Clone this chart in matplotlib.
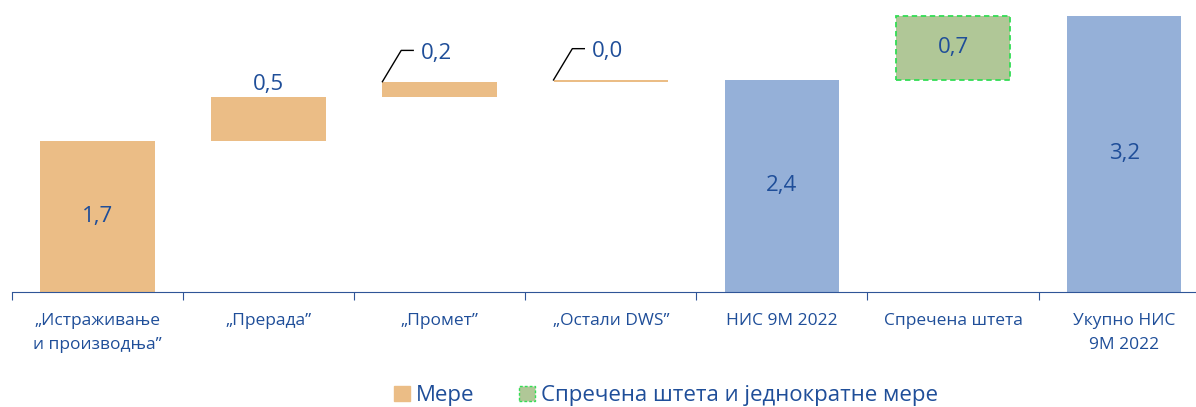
import matplotlib.pyplot as plt
from matplotlib.patches import Patch

plt.rcParams['font.family'] = ['Open Sans', 'DejaVu Sans']

categories = ['„Истраживање\nи производња”', '„Прерада”', '„Промет”', '„Остали DWS”',
              'НИС 9M 2022', 'Спречена штета', 'Укупно НИС\n9M 2022']
steps = [1.74, 0.50, 0.18, 0.02]
subtotal = 2.44
prevented = 0.74
total = 3.18

orange = '#EBBD86'
blue = '#95B0D8'
green = '#B0C797'
text_blue = '#1F4E99'

fig = plt.figure(figsize=(11.96, 4.07), dpi=100)
ax = fig.add_axes([0.010, 0.2826, 0.99, 0.7174])

def fmt(v):
    return f'{v:.1f}'.replace('.', ',')

# мере (водопад)
base = 0
for i, v in enumerate(steps):
    ax.bar(i, v, bottom=base, width=0.67, color=orange)
    if i == 0:
        ax.text(i, base + v / 2, fmt(v), ha='center', va='center', fontsize=16, color=text_blue)
    elif i == 1:
        ax.text(i, base + v + 0.03, fmt(v), ha='center', va='bottom', fontsize=16, color=text_blue)
    else:
        # лидер линија
        x0 = i - 0.335
        y0 = base + v
        ax.plot([x0, x0 + 0.11, x0 + 0.18], [y0, y0 + 0.36, y0 + 0.36], color='black', lw=1)
        ax.text(x0 + 0.225, y0 + 0.33, fmt(v), ha='left', va='center', fontsize=16, color=text_blue)
    base += v

ax.bar(4, subtotal, width=0.67, color=blue)
ax.text(4, subtotal / 2, fmt(subtotal), ha='center', va='center', fontsize=16, color=text_blue)

ax.bar(5, prevented, bottom=subtotal, width=0.67, color=green, edgecolor='#33DD55',
       linestyle=(0, (3, 2)), linewidth=1.3)
ax.text(5, subtotal + prevented / 2, fmt(prevented), ha='center', va='center', fontsize=16, color=text_blue)

ax.bar(6, total, width=0.67, color=blue)
ax.text(6, total / 2, fmt(total), ha='center', va='center', fontsize=16, color=text_blue)

ax.set_xlim(-0.5, 6.42)
ax.set_ylim(0, 3.36)
for s in ['top', 'right', 'left']:
    ax.spines[s].set_visible(False)
ax.spines['bottom'].set_color('#2F5597')
ax.set_yticks([])

ax.set_xticks([i - 0.5 for i in range(7)])
ax.set_xticklabels([])
ax.tick_params(axis='x', length=6, color='#2F5597', direction='out')
for i, c in enumerate(categories):
    ax.text(i, -0.24, c, ha='center', va='top', fontsize=12.5, color=text_blue,
            linespacing=1.65)

handles = [Patch(facecolor=orange, edgecolor=orange, label='Мере'),
           Patch(facecolor=green, edgecolor='#33DD55', linestyle=(0, (2, 1.5)),
                 label='Спречена штета и једнократне мере')]
fig.legend(handles=handles, loc='center', bbox_to_anchor=(0.557, 0.028), ncol=2, frameon=False,
           fontsize=16, handlelength=0.7, handleheight=0.7, handletextpad=0.3, columnspacing=2.0,
           labelcolor=text_blue)

fig.savefig('out.png', dpi=100)
